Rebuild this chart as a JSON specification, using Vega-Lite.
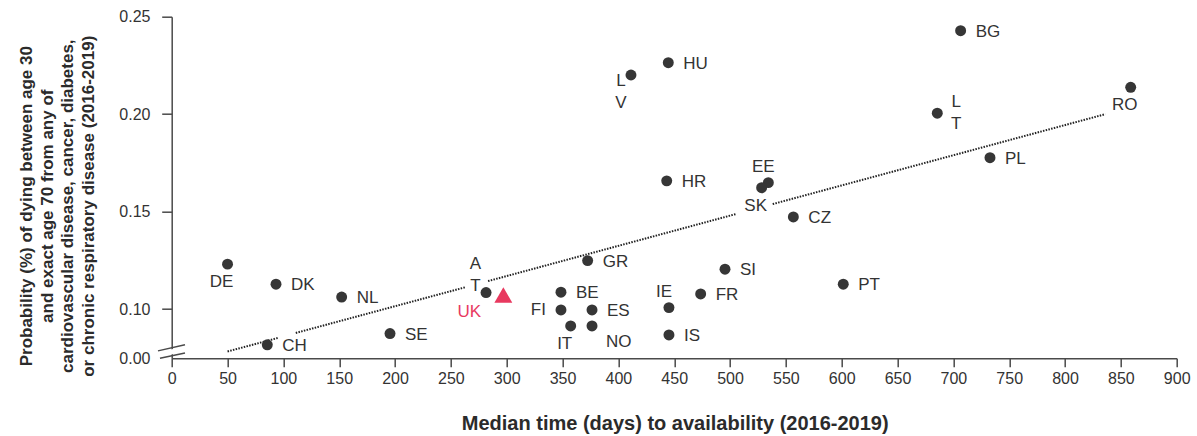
{
  "$schema": "https://vega.github.io/schema/vega-lite/v6.json",
  "autosize": "none",
  "width": 1005,
  "height": 341.6,
  "padding": {"left": 171.7, "top": 16.7, "right": 20.3, "bottom": 77.7},
  "background": "white",
  "config": {"view": {"stroke": null}, "font": "Liberation Sans"},
  "datasets": {
    "pts": [
      {"country": "DE", "days": 50, "prob": 0.1231},
      {"country": "DK", "days": 93.4, "prob": 0.1128},
      {"country": "NL", "days": 152.2, "prob": 0.1062},
      {"country": "CH", "days": 85.6, "prob": 0.0817},
      {"country": "SE", "days": 195.5, "prob": 0.0875},
      {"country": "AT", "days": 281.5, "prob": 0.1085},
      {"country": "UK", "days": 297, "prob": 0.1073},
      {"country": "GR", "days": 372.5, "prob": 0.1249},
      {"country": "BE", "days": 348.6, "prob": 0.1087},
      {"country": "FI", "days": 348.6, "prob": 0.0996},
      {"country": "ES", "days": 376.4, "prob": 0.0996},
      {"country": "IT", "days": 357.3, "prob": 0.0914},
      {"country": "NO", "days": 376.4, "prob": 0.0914},
      {"country": "IE", "days": 445.3, "prob": 0.1008},
      {"country": "IS", "days": 445.3, "prob": 0.0868},
      {"country": "FR", "days": 473.7, "prob": 0.1078},
      {"country": "SI", "days": 495.5, "prob": 0.1205},
      {"country": "HR", "days": 443.3, "prob": 0.1658},
      {"country": "EE", "days": 534.3, "prob": 0.1649},
      {"country": "SK", "days": 528.3, "prob": 0.1623},
      {"country": "CZ", "days": 556.7, "prob": 0.1473},
      {"country": "PT", "days": 601.4, "prob": 0.1128},
      {"country": "BG", "days": 706.5, "prob": 0.2428},
      {"country": "LT", "days": 685.6, "prob": 0.2005},
      {"country": "RO", "days": 858.8, "prob": 0.2138},
      {"country": "PL", "days": 732.8, "prob": 0.1777},
      {"country": "HU", "days": 444.7, "prob": 0.2264},
      {"country": "LV", "days": 411.3, "prob": 0.2201}
    ],
    "trend": [
      {"seg": 1, "days": 50, "prob": 0.0783},
      {"seg": 1, "days": 95.5, "prob": 0.0853},
      {"seg": 2, "days": 111.1, "prob": 0.0878},
      {"seg": 2, "days": 262.7, "prob": 0.1112},
      {"seg": 3, "days": 283.3, "prob": 0.1144},
      {"seg": 3, "days": 506, "prob": 0.1489},
      {"seg": 4, "days": 538.2, "prob": 0.1539},
      {"seg": 4, "days": 836, "prob": 0.2}
    ],
    "brk": [
      {"part": "gap", "days": -11.4, "prob": 0.0767, "days2": 11.9, "prob2": 0.0796},
      {"part": "upper", "days": -12.3, "prob": 0.0786, "days2": 11.9, "prob2": 0.0817},
      {"part": "lower", "days": -10.5, "prob": 0.0748, "days2": 11.9, "prob2": 0.0775}
    ]
  },
  "encoding": {
    "x": {
      "field": "days", "type": "quantitative",
      "scale": {"domain": [0, 900], "nice": false, "zero": false},
      "axis": {
        "title": "Median time (days) to availability (2016-2019)",
        "values": [0, 50, 100, 150, 200, 250, 300, 350, 400, 450, 500, 550, 600, 650, 700, 750, 800, 850, 900],
        "grid": false,
        "domainColor": "#4a4a4a", "domainWidth": 1.5,
        "tickColor": "#4a4a4a", "tickWidth": 1.5, "tickSize": 8.5,
        "labelFontSize": 16, "labelColor": "#333333", "labelPadding": 4,
        "labelFlush": false, "labelOverlap": false,
        "titleFontSize": 20, "titleFontWeight": "bold", "titleColor": "#2b2b2b",
        "titleBaseline": "alphabetic", "titleY": 71, "titleX": 503
      }
    },
    "y": {
      "field": "prob", "type": "quantitative",
      "scale": {"domain": [0.0748, 0.25], "nice": false, "zero": false},
      "axis": {
        "title": ["Probability (%) of dying between age 30", "and exact age 70 from any of", "cardiovascular disease, cancer, diabetes,", "or chronic respiratory disease (2016-2019)"],
        "values": [0.0748, 0.1, 0.15, 0.2, 0.25],
        "labelExpr": "datum.value < 0.09 ? '0.00' : format(datum.value, '.2f')",
        "grid": false,
        "domainColor": "#4a4a4a", "domainWidth": 1.5,
        "tickColor": {"condition": {"test": "datum.value < 0.09", "value": "transparent"}, "value": "#4a4a4a"},
        "tickWidth": 1.5, "tickSize": 10,
        "labelFontSize": 16, "labelColor": "#333333", "labelPadding": 11.7,
        "labelFlush": false, "labelOverlap": false,
        "titleFontSize": 17, "titleFontWeight": "bold", "titleColor": "#2b2b2b",
        "titleLineHeight": 20.6, "titleAngle": -90, "titleAlign": "center",
        "titleBaseline": "alphabetic", "titleX": -140, "titleY": 189
      }
    }
  },
  "layer": [
    {
      "data": {"name": "brk"},
      "transform": [{"filter": "datum.part == 'gap'"}],
      "mark": {"type": "rule", "color": "white", "strokeWidth": 5},
      "encoding": {"x2": {"field": "days2"}, "y2": {"field": "prob2"}}
    },
    {
      "data": {"name": "brk"},
      "transform": [{"filter": "datum.part != 'gap'"}],
      "mark": {"type": "rule", "color": "#4a4a4a", "strokeWidth": 1.5},
      "encoding": {"x2": {"field": "days2"}, "y2": {"field": "prob2"}}
    },
    {
      "data": {"name": "trend"},
      "mark": {"type": "line", "color": "#222222", "strokeWidth": 2, "strokeDash": [1.5, 1.3]},
      "encoding": {"detail": {"field": "seg", "type": "nominal"}, "order": {"field": "days", "type": "quantitative"}}
    },
    {
      "data": {"name": "pts"},
      "transform": [{"filter": "datum.country != 'UK'"}],
      "mark": {"type": "circle", "size": 120, "color": "#363636", "opacity": 1}
    },
    {
      "data": {"name": "pts"},
      "transform": [{"filter": "datum.country == 'UK'"}],
      "mark": {"type": "point", "shape": "triangle-up", "filled": true, "size": 320, "color": "#e8395f", "opacity": 1}
    },
    {
      "data": {"name": "pts"},
      "transform": [{"filter": {"field": "country", "oneOf": ["DK", "NL", "SE", "CH", "HU", "HR", "BG", "PL", "CZ", "PT", "SI", "GR", "BE", "ES", "FR", "IS"]}}],
      "mark": {"type": "text", "align": "left", "baseline": "middle", "dx": 15, "dy": 1, "fontSize": 17, "color": "#333333"},
      "encoding": {"text": {"field": "country", "type": "nominal"}}
    },
    {
      "data": {"name": "pts"},
      "transform": [{"filter": "datum.country == 'FI'"}],
      "mark": {"type": "text", "align": "right", "baseline": "middle", "dx": -15, "dy": 0, "fontSize": 17, "color": "#333333"},
      "encoding": {"text": {"field": "country", "type": "nominal"}}
    },
    {
      "data": {"name": "pts"},
      "transform": [{"filter": {"field": "country", "oneOf": ["DE", "IT", "SK", "RO"]}}],
      "mark": {"type": "text", "align": "center", "baseline": "middle", "dx": -6, "dy": 18, "fontSize": 17, "color": "#333333"},
      "encoding": {"text": {"field": "country", "type": "nominal"}}
    },
    {
      "data": {"name": "pts"},
      "transform": [{"filter": {"field": "country", "oneOf": ["IE", "EE"]}}],
      "mark": {"type": "text", "align": "center", "baseline": "middle", "dx": -5, "dy": -16, "fontSize": 17, "color": "#333333"},
      "encoding": {"text": {"field": "country", "type": "nominal"}}
    },
    {
      "data": {"name": "pts"},
      "transform": [{"filter": "datum.country == 'NO'"}],
      "mark": {"type": "text", "align": "left", "baseline": "middle", "dx": 14, "dy": 16, "fontSize": 17, "color": "#333333"},
      "encoding": {"text": {"field": "country", "type": "nominal"}}
    },
    {
      "data": {"name": "pts"},
      "transform": [{"filter": "datum.country == 'UK'"}],
      "mark": {"type": "text", "align": "center", "baseline": "middle", "dx": -34, "dy": 17, "fontSize": 17, "color": "#e8395f"},
      "encoding": {"text": {"field": "country", "type": "nominal"}}
    },
    {
      "data": {"name": "pts"},
      "transform": [{"filter": "datum.country == 'AT'"}, {"calculate": "split(datum.country, '')", "as": "chars"}],
      "mark": {"type": "text", "align": "center", "baseline": "middle", "dx": -10.5, "dy": -28.7, "lineHeight": 22.5, "fontSize": 17, "color": "#333333"},
      "encoding": {"text": {"field": "chars"}}
    },
    {
      "data": {"name": "pts"},
      "transform": [{"filter": "datum.country == 'LT'"}, {"calculate": "split(datum.country, '')", "as": "chars"}],
      "mark": {"type": "text", "align": "center", "baseline": "middle", "dx": 19, "dy": -11.6, "lineHeight": 22.5, "fontSize": 17, "color": "#333333"},
      "encoding": {"text": {"field": "chars"}}
    },
    {
      "data": {"name": "pts"},
      "transform": [{"filter": "datum.country == 'LV'"}, {"calculate": "split(datum.country, '')", "as": "chars"}],
      "mark": {"type": "text", "align": "center", "baseline": "middle", "dx": -10, "dy": 6, "lineHeight": 22.5, "fontSize": 17, "color": "#333333"},
      "encoding": {"text": {"field": "chars"}}
    }
  ]
}
